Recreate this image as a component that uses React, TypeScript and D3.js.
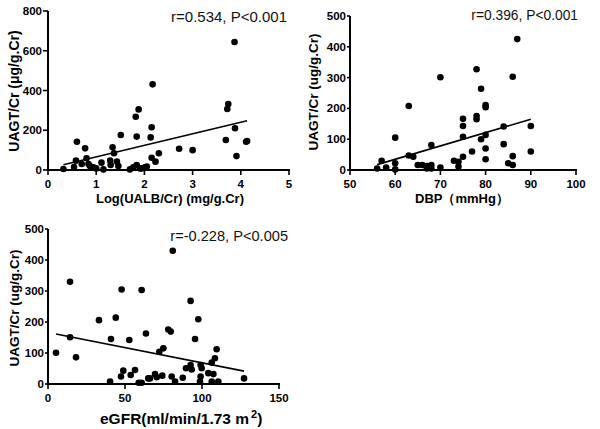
import React, { useEffect, useRef } from "react";
import * as d3 from "d3";

// Panel A: Log(UALB/Cr) vs UAGT/Cr
const ualbX = [0.32, 0.54, 0.58, 0.6, 0.7, 0.77, 0.8, 0.84, 0.87, 0.94, 1.0, 1.11, 1.15, 1.29, 1.3, 1.34, 1.37, 1.43, 1.46, 1.51, 1.7, 1.77, 1.82, 1.84, 1.84, 1.88, 1.91, 1.94, 2.01, 2.05, 2.13, 2.15, 2.15, 2.17, 2.23, 2.3, 2.72, 3.0, 3.69, 3.72, 3.74, 3.87, 3.88, 3.91, 4.11, 4.13];
const ualbY = [5, 15, 47, 142, 30, 109, 59, 30, 20, 13, 8, 37, 3, 47, 25, 114, 84, 42, 20, 176, 3, 13, 268, 168, 25, 305, 8, 8, 13, 17, 164, 215, 62, 431, 42, 84, 107, 100, 151, 307, 332, 644, 210, 70, 142, 146];
const ualbFit = [58, 8]; // slope, intercept

// Panel B: DBP vs UAGT/Cr
const dbpX = [56, 57, 58, 60, 60, 60, 63, 63, 64, 65, 66, 67, 67, 68, 68, 68, 70, 70, 73, 74, 74, 75, 75, 75, 75, 77, 78, 78, 78, 79, 79, 80, 80, 80, 80, 80, 84, 84, 85, 86, 86, 86, 87, 90, 90];
const dbpY = [5, 30, 8, 22, 2, 105, 208, 47, 43, 16, 16, 13, 5, 16, 5, 81, 8, 301, 30, 27, 11, 43, 108, 143, 166, 60, 165, 175, 327, 264, 100, 114, 211, 204, 70, 35, 141, 84, 22, 45, 16, 303, 425, 143, 60];
const dbpFit = [4.33, -225];

// Panel C: eGFR vs UAGT/Cr
const egfrX = [5.2, 14.3, 14.3, 18.2, 33.1, 40.3, 40.9, 44, 47.8, 48.9, 47.4, 52.8, 53.7, 56.5, 58.9, 60.8, 60.8, 63.6, 65.1, 66.2, 69.5, 70.6, 72.3, 74.2, 74.9, 78.1, 79.7, 81, 80.3, 82.5, 87.5, 89.6, 92.6, 93.3, 92.6, 97.6, 95.5, 99.1, 99.8, 99.1, 98.7, 104.1, 106.3, 107.4, 108.4, 109.5, 106.3, 110.6, 127.3];
const egfrY = [101, 330, 151, 86, 206, 8, 145, 214, 305, 43, 24, 142, 29, 45, 4, 4, 303, 163, 18, 18, 32, 22, 104, 27, 115, 176, 169, 430, 24, 8, 20, 51, 61, 47, 268, 209, 145, 61, 51, 24, 8, 35, 69, 32, 83, 112, 8, 8, 18];
const egfrFit = [-0.982, 166.5];

const ualbTicksX = [0, 1, 2, 3, 4, 5];
const ualbTicksY = [0, 200, 400, 600, 800];
const dbpTicksX = [50, 60, 70, 80, 90, 100];
const dbpTicksY = [0, 100, 200, 300, 400, 500];
const egfrTicksX = [0, 50, 100, 150];
const egfrTicksY = [0, 100, 200, 300, 400, 500];

const FONT = "Arial, 'Liberation Sans', Helvetica, sans-serif";

type PanelProps = {
  svg: d3.Selection<SVGSVGElement, unknown, null, undefined>;
  box: [number, number, number, number]; // left, right, top, bottom
  xs: number[];
  ys: number[];
  fit: number[];
  xTicks: number[];
  yTicks: number[];
  yTickLen: number;
  stat: string;
  statX: number;
  statY: number;
  statSize: number;
  yTitle: string;
  yTitleX: number;
  yTitleY: number;
  yTitleSize: number;
};

function drawPanel(p: PanelProps) {
  const [l, r, t, b] = p.box;
  const x = d3.scaleLinear().domain([p.xTicks[0], p.xTicks[p.xTicks.length - 1]]).range([l, r]);
  const y = d3.scaleLinear().domain([p.yTicks[0], p.yTicks[p.yTicks.length - 1]]).range([b, t]);
  const g = p.svg.append("g");

  // axes
  g.append("line").attr("x1", l).attr("x2", l).attr("y1", t).attr("y2", b + 1)
    .attr("stroke", "#000").attr("stroke-width", 2);
  g.append("line").attr("x1", l - 1).attr("x2", r + 1).attr("y1", b).attr("y2", b)
    .attr("stroke", "#000").attr("stroke-width", 2);

  p.yTicks.forEach((v) => {
    g.append("line").attr("x1", l - p.yTickLen).attr("x2", l).attr("y1", y(v)).attr("y2", y(v))
      .attr("stroke", "#000").attr("stroke-width", 1.6);
    g.append("text").attr("x", l - p.yTickLen - 1).attr("y", y(v)).attr("dy", "0.35em")
      .attr("text-anchor", "end").style("font-family", FONT).style("font-size", "11.5px")
      .style("font-weight", "bold").text(v);
  });
  p.xTicks.forEach((v) => {
    g.append("line").attr("x1", x(v)).attr("x2", x(v)).attr("y1", b).attr("y2", b + 5)
      .attr("stroke", "#000").attr("stroke-width", 1.6);
    g.append("text").attr("x", x(v)).attr("y", b + 17.5)
      .attr("text-anchor", "middle").style("font-family", FONT).style("font-size", "11.5px")
      .style("font-weight", "bold").text(v);
  });

  // regression line
  const [x0, x1] = d3.extent(p.xs) as [number, number];
  g.append("line")
    .attr("x1", x(x0)).attr("y1", y(p.fit[0] * x0 + p.fit[1]))
    .attr("x2", x(x1)).attr("y2", y(p.fit[0] * x1 + p.fit[1]))
    .attr("stroke", "#000").attr("stroke-width", 1.6);

  // points
  g.selectAll("circle.pt").data(p.xs).enter().append("circle")
    .attr("class", "pt")
    .attr("cx", (d) => x(d))
    .attr("cy", (_d, i) => y(p.ys[i]))
    .attr("r", 3.3)
    .attr("fill", "#000");

  g.append("text").attr("x", p.statX).attr("y", p.statY).attr("text-anchor", "end")
    .style("font-family", FONT).style("font-size", `${p.statSize}px`).style("fill", "#111")
    .text(p.stat);

  g.append("text")
    .attr("transform", `translate(${p.yTitleX},${p.yTitleY}) rotate(-90)`)
    .attr("text-anchor", "middle").attr("dy", "0.35em")
    .style("font-family", FONT).style("font-size", `${p.yTitleSize}px`).style("font-weight", "bold")
    .text(p.yTitle);
}

const App = () => {
  const svgRef = useRef<SVGSVGElement>(null);

  useEffect(() => {
    const svg = d3.select(svgRef.current as SVGSVGElement);
    svg.selectAll("*").remove();

    drawPanel({
      svg, box: [48, 289, 11, 170], xs: ualbX, ys: ualbY, fit: ualbFit,
      xTicks: ualbTicksX, yTicks: ualbTicksY, yTickLen: 5,
      stat: "r=0.534, P<0.001", statX: 287, statY: 22, statSize: 15,
      yTitle: "UAGT/Cr (μg/g.Cr)", yTitleX: 14, yTitleY: 91, yTitleSize: 14,
    });
    drawPanel({
      svg, box: [350, 576, 16, 170], xs: dbpX, ys: dbpY, fit: dbpFit,
      xTicks: dbpTicksX, yTicks: dbpTicksY, yTickLen: 3,
      stat: "r=0.396, P<0.001", statX: 578, statY: 20, statSize: 13.8,
      yTitle: "UAGT/Cr (ug/g.Cr)", yTitleX: 313, yTitleY: 92, yTitleSize: 13.5,
    });
    drawPanel({
      svg, box: [48, 279, 229, 384], xs: egfrX, ys: egfrY, fit: egfrFit,
      xTicks: egfrTicksX, yTicks: egfrTicksY, yTickLen: 3,
      stat: "r=-0.228, P<0.005", statX: 288, statY: 241, statSize: 14.6,
      yTitle: "UAGT/Cr (ug/g.Cr)", yTitleX: 14, yTitleY: 308, yTitleSize: 13.5,
    });

    // x titles
    svg.append("text").attr("x", 170).attr("y", 202.5).attr("text-anchor", "middle")
      .style("font-family", FONT).style("font-size", "13px").style("font-weight", "bold")
      .text("Log(UALB/Cr) (mg/g.Cr)");
    svg.append("text").attr("x", 415).attr("y", 203).attr("text-anchor", "start")
      .style("font-family", FONT).style("font-size", "13px").style("font-weight", "bold")
      .text("DBP（mmHg）");
    const eg = svg.append("text").attr("x", 100).attr("y", 424).attr("text-anchor", "start")
      .style("font-family", FONT).style("font-size", "15.5px").style("font-weight", "bold");
    eg.append("tspan").text("eGFR(ml/min/1.73 m");
    eg.append("tspan").attr("dx", 2).attr("dy", -6).style("font-size", "11px").text("2");
    eg.append("tspan").attr("dy", 6).text(")");
  }, []);

  return (
    <div style={{ position: "absolute", left: 0, top: 0 }}>
      <svg ref={svgRef} width={600} height={429} style={{ display: "block", background: "#fff" }}></svg>
    </div>
  );
};

export default App;
